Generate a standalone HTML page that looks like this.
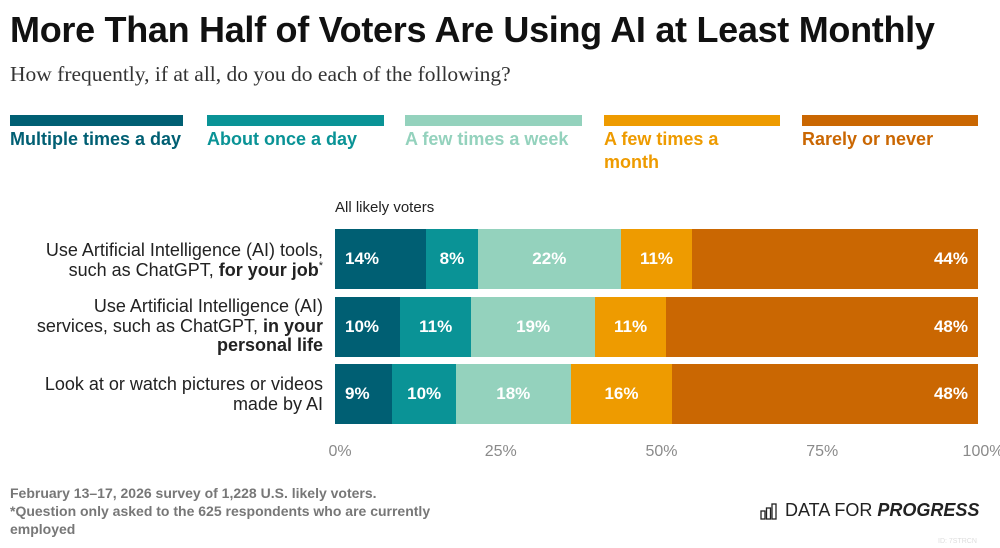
<!DOCTYPE html>
<html><head><meta charset="utf-8">
<style>
body{margin:0;background:#fff;width:1000px;height:548px;overflow:hidden;font-family:"Liberation Sans",sans-serif;position:relative}
.abs{position:absolute}
h1{position:absolute;left:10px;top:9px;margin:0;font-size:36px;font-weight:bold;color:#111;letter-spacing:-0.3px;white-space:nowrap}
.sub{left:10px;top:62px;font-family:"Liberation Serif",serif;font-size:21.5px;color:#333;white-space:nowrap}
.sw{top:115px;height:11px}
.lt{top:128px;font-size:18px;line-height:23px;font-weight:bold;white-space:nowrap}
.cat{right:677px;text-align:right;font-size:18px;line-height:19.5px;color:#222;white-space:nowrap}
.cat sup{line-height:0;font-size:11px}
.tick{top:443px;font-size:16px;color:#8a8a8a;transform:translateX(-50%)}
.foot{left:10px;top:484px;font-size:14px;line-height:18px;color:#777;font-weight:bold}
</style></head><body>
<h1>More Than Half of Voters Are Using AI at Least Monthly</h1>
<div class="abs sub">How frequently, if at all, do you do each of the following?</div>

<div class="abs sw" style="left:10px;width:173px;background:#005f73"></div>
<div class="abs sw" style="left:207px;width:177px;background:#0a9396"></div>
<div class="abs sw" style="left:405px;width:177px;background:#94d2bd"></div>
<div class="abs sw" style="left:604px;width:176px;background:#ee9b00"></div>
<div class="abs sw" style="left:802px;width:176px;background:#ca6702"></div>
<div class="abs lt" style="left:10px;color:#005f73">Multiple times a day</div>
<div class="abs lt" style="left:207px;color:#0a9396">About once a day</div>
<div class="abs lt" style="left:405px;color:#94d2bd">A few times a week</div>
<div class="abs lt" style="left:604px;color:#ee9b00">A few times a<br>month</div>
<div class="abs lt" style="left:802px;color:#ca6702">Rarely or never</div>

<div class="abs" style="left:335px;top:199px;font-size:15px;color:#222">All likely voters</div>

<div class="abs cat" style="top:241px">Use Artificial Intelligence (AI) tools,<br>such as ChatGPT, <b>for your job</b><sup>*</sup></div>
<div class="abs cat" style="top:297px">Use Artificial Intelligence (AI)<br>services, such as ChatGPT, <b>in your</b><br><b>personal life</b></div>
<div class="abs cat" style="top:375px">Look at or watch pictures or videos<br>made by AI</div>

<div id="chart"></div>

<div class="abs foot">February 13–17, 2026 survey of 1,228 U.S. likely voters.<br>*Question only asked to the 625 respondents who are currently<br>employed</div>

<svg class="abs" style="left:760px;top:502px" width="20" height="18">
<g fill="none" stroke="#222" stroke-width="1.3"><rect x="1" y="9" width="4" height="8"/><rect x="6.5" y="6" width="4" height="11"/><rect x="12" y="2" width="4" height="15"/></g></svg>
<div class="abs" style="left:785px;top:500px;font-size:18px;color:#222;white-space:nowrap">DATA FOR <b><i>PROGRESS</i></b></div>
<div class="abs" style="left:938px;top:538px;font-size:7px;color:#ddd">ID: 7STRCN</div>

<script>
const categories = ["job", "personal", "pictures"];
const seriesNames = ["multiple-daily", "once-daily", "few-weekly", "few-monthly", "rarely"];
const multipleDaily = [14, 10, 9];
const onceDaily = [8, 11, 10];
const fewWeekly = [22, 19, 18];
const fewMonthly = [11, 11, 16];
const rarely = [44, 48, 48];
const tickValues = [0, 25, 50, 75, 100];
const tickLabels = ["0%", "25%", "50%", "75%", "100%"];

const colors = ["#005f73", "#0a9396", "#94d2bd", "#ee9b00", "#ca6702"];
const X0 = 335, XW = 643, ROW0 = 229, ROWSTEP = 67.7, BARH = 60;
const xScale = v => X0 + v / 100 * XW;
const yScale = i => ROW0 + i * ROWSTEP;
const chart = document.getElementById('chart');
const series = [multipleDaily, onceDaily, fewWeekly, fewMonthly, rarely];

categories.forEach((cat, i) => {
  const total = series.reduce((s, arr) => s + arr[i], 0);
  let cum = 0;
  series.forEach((arr, j) => {
    const v = arr[i];
    const x1 = xScale(cum / total * 100), x2 = xScale((cum + v) / total * 100);
    cum += v;
    const seg = document.createElement('div');
    
    
    seg.className = 'abs';
    seg.style.cssText = `left:${x1}px;top:${yScale(i)}px;width:${x2 - x1}px;height:${BARH}px;background:${colors[j]};color:#fff;font-weight:bold;font-size:17px;display:flex;align-items:center;box-sizing:border-box;` +
      (j === 4 ? 'justify-content:flex-end;padding-right:10px;' : 'justify-content:center;');
    if (j === 0) { seg.style.justifyContent = 'flex-start'; seg.style.paddingLeft = '10px'; }
    seg.textContent = v + '%';
    chart.appendChild(seg);
  });
});

tickValues.forEach((t, k) => {
  const el = document.createElement('div');
  
  
  el.className = 'abs tick';
  el.style.left = (xScale(t) + 5) + 'px';
  el.textContent = tickLabels[k];
  chart.appendChild(el);
});
</script>
</body></html>
